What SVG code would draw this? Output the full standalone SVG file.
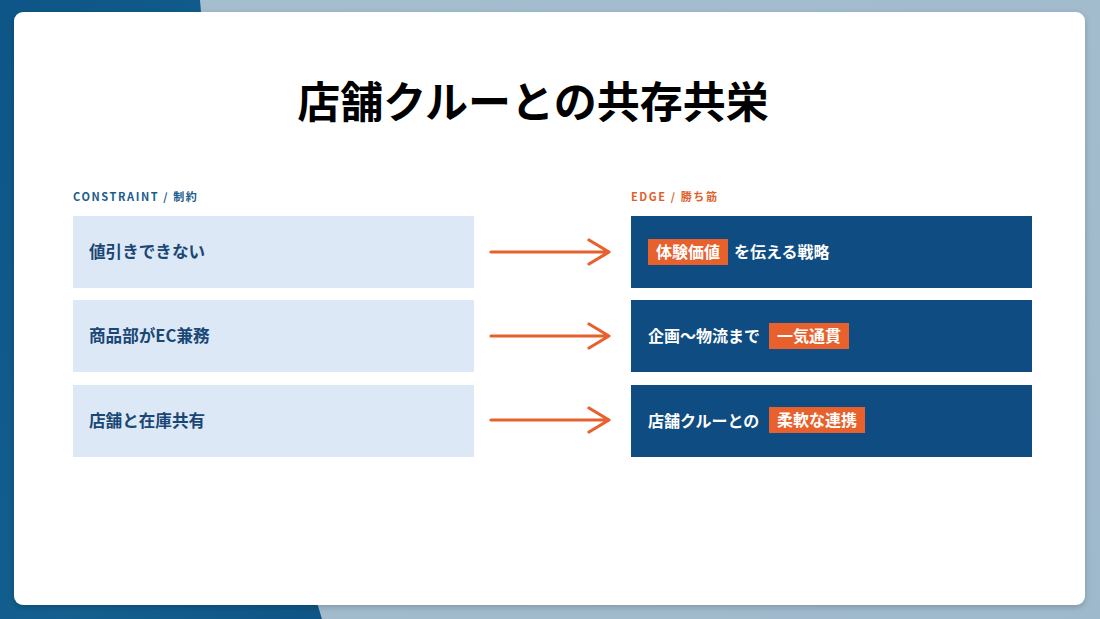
<svg xmlns="http://www.w3.org/2000/svg" width="1100" height="619" viewBox="0 0 1100 619">
<defs>
<style>
.lab{font-family:"Noto Sans CJK JP","Noto Sans",sans-serif;font-size:11px;font-weight:700;letter-spacing:1.6px}
.lt{font-family:"Noto Sans CJK JP",sans-serif;font-size:16.6px;font-weight:700;fill:#1a4774}
.rt{font-family:"Noto Sans CJK JP",sans-serif;font-size:16px;font-weight:700;fill:#ffffff}
.lbox{fill:#dce8f5}
.rbox{fill:#0f4c81}
.hl{fill:#e8602c}
.arr{fill:none;stroke:#e8602c;stroke-width:3.2;stroke-linecap:round;stroke-linejoin:round}
</style>
<linearGradient id="bgL" x1="0" y1="0" x2="1" y2="1">
<stop offset="0" stop-color="#0d5687"/>
<stop offset="0.6" stop-color="#135f8f"/>
<stop offset="1" stop-color="#0f5585"/>
</linearGradient>
<linearGradient id="bgR" x1="0" y1="0" x2="1" y2="1">
<stop offset="0" stop-color="#a6bfcf"/>
<stop offset="1" stop-color="#9fb9cc"/>
</linearGradient>
<filter id="sh" x="-5%" y="-5%" width="110%" height="110%">
<feDropShadow dx="0" dy="2" stdDeviation="3" flood-color="#000" flood-opacity="0.2"/>
</filter>
</defs>
<g id="background">
<rect x="0" y="0" width="1100" height="619" fill="url(#bgR)"/>
<path d="M0 0 H200 C215 200 260 420 322 619 H0 Z" fill="url(#bgL)"/>
</g>
<rect id="card" x="14" y="12" width="1071" height="593" rx="9" fill="#ffffff" filter="url(#sh)"/>
<text id="title" x="533" y="118" text-anchor="middle" font-family="'Noto Sans CJK JP',sans-serif" font-size="43" font-weight="700" fill="#000">店舗クルーとの共存共栄</text>
<text id="label-constraint" class="lab" x="73" y="201" fill="#1a5c8c">CONSTRAINT / 制約</text>
<text id="label-edge" class="lab" x="631" y="201" fill="#e0602a">EDGE / 勝ち筋</text>
<g id="constraint-1"><rect class="lbox" x="73" y="216" width="401" height="72"/><text class="lt" x="89" y="258">値引きできない</text></g>
<g id="constraint-2"><rect class="lbox" x="73" y="300" width="401" height="72"/><text class="lt" x="89" y="342">商品部がEC兼務</text></g>
<g id="constraint-3"><rect class="lbox" x="73" y="385" width="401" height="72"/><text class="lt" x="89" y="427">店舗と在庫共有</text></g>
<g id="edge-1"><rect class="rbox" x="631" y="216" width="401" height="72"/><rect class="hl" x="648" y="239" width="80" height="26"/><text class="rt" x="656" y="258">体験価値</text><text class="rt" x="734" y="258">を伝える戦略</text></g>
<g id="edge-2"><rect class="rbox" x="631" y="300" width="401" height="72"/><text class="rt" x="648" y="342">企画〜物流まで</text><rect class="hl" x="769" y="323" width="80" height="26"/><text class="rt" x="777" y="342">一気通貫</text></g>
<g id="edge-3"><rect class="rbox" x="631" y="385" width="401" height="72"/><text class="rt" x="648" y="427">店舗クルーとの</text><rect class="hl" x="769" y="407" width="96" height="26"/><text class="rt" x="777" y="426">柔軟な連携</text></g>
<g id="connectors">
<path class="arr" d="M491 252 H609 M589 240 L609 252 L589 264"/>
<path class="arr" d="M491 336 H609 M589 324 L609 336 L589 348"/>
<path class="arr" d="M491 420 H609 M589 408 L609 420 L589 432"/>
</g>
</svg>
